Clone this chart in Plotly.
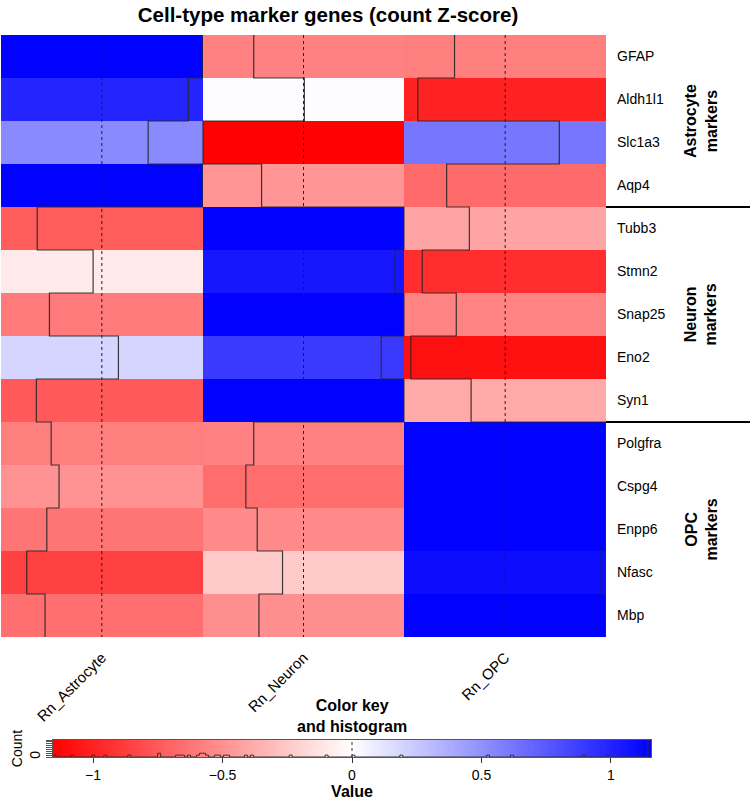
import numpy as np
import plotly.graph_objects as go

# datos: Z-score por fila (gen) para cada tipo celular
genes = ["GFAP", "Aldh1l1", "Slc1a3", "Aqp4",
         "Tubb3", "Stmn2", "Snap25", "Eno2", "Syn1",
         "Polgfra", "Cspg4", "Enpp6", "Nfasc", "Mbp"]
samples = ["Rn_Astrocyte", "Rn_Neuron", "Rn_OPC"]
astro = [1.15, 0.99, 0.53, 1.15, -0.74, -0.10, -0.60, 0.19, -0.75, -0.58, -0.49, -0.63, -0.86, -0.65]
neuron = [-0.57, 0.01, -1.15, -0.48, 1.15, 1.05, 1.15, 0.89, 1.15, -0.57, -0.66, -0.53, -0.24, -0.51]
opc = [-0.58, -1.00, 0.62, -0.67, -0.41, -0.95, -0.56, -1.08, -0.39, 1.15, 1.15, 1.15, 1.10, 1.15]
groups = ["Astrocyte<br>markers", "Neuron<br>markers", "OPC<br>markers"]
group_sizes = [4, 5, 5]

FONT = "Liberation Sans, Arial, sans-serif"
W, H = 750, 800
lo, hi = -2 / np.sqrt(3), 2 / np.sqrt(3)   # limites del Z-score con 3 columnas
cscale = [[0, "rgb(255,0,0)"], [0.5, "rgb(255,255,255)"], [1, "rgb(0,0,255)"]]

z = np.array([astro, neuron, opc]).T
rows = np.arange(len(genes))

fig = go.Figure()

# mapa de calor principal
fig.add_trace(go.Heatmap(z=z, x=list(range(len(samples))), y=rows, colorscale=cscale,
                         zmin=lo, zmax=hi, showscale=False, hoverinfo="skip"))

# lineas de referencia (valor 0) y traza por columna
for j in range(len(samples)):
    fig.add_trace(go.Scatter(x=[j, j], y=[-0.5, len(genes) - 0.5], mode="lines",
                             line=dict(color="#222", width=1, dash="3px,3px"),
                             showlegend=False, hoverinfo="skip"))
    xt = j - 0.5 + (z[:, j] - lo) / (hi - lo)
    fig.add_trace(go.Scatter(x=np.repeat(xt, 2), y=np.column_stack([rows - 0.5, rows + 0.5]).ravel(),
                             mode="lines", line=dict(color="rgba(40,40,40,0.9)", width=1.2),
                             showlegend=False, hoverinfo="skip"))

# llave de color + histograma
nb = 200
edges = np.linspace(lo, hi, nb + 1)
counts, _ = np.histogram(z.ravel(), bins=edges)
cmax = counts.max()
fig.add_trace(go.Heatmap(z=[(edges[:-1] + edges[1:]) / 2], x=edges, y=[0, cmax], colorscale=cscale,
                         zmin=lo, zmax=hi, showscale=False, hoverinfo="skip",
                         xaxis="x2", yaxis="y2"))
fig.add_trace(go.Scatter(x=edges, y=np.append(counts, counts[-1]), mode="lines", line_shape="hv",
                         line=dict(color="#333", width=1), xaxis="x2", yaxis="y2",
                         showlegend=False, hoverinfo="skip"))
fig.add_trace(go.Scatter(x=[0, 0], y=[0, cmax], mode="lines",
                         line=dict(color="#333", width=1, dash="3px,3px"), xaxis="x2", yaxis="y2",
                         showlegend=False, hoverinfo="skip"))

hm_x = [1 / W, 606 / W]
hm_y = [1 - 637 / H, 1 - 35 / H]

# separadores de grupos y etiquetas de grupo
bounds = np.cumsum(group_sizes)
for b in bounds[:-1]:
    fig.add_shape(type="line", xref="paper", yref="y", x0=hm_x[1], x1=1, y0=b - 0.5, y1=b - 0.5,
                  line=dict(color="black", width=2))
start = 0
for g, n in zip(groups, group_sizes):
    fig.add_annotation(text=f"<b>{g}</b>", xref="paper", yref="y", x=701 / W, y=start + (n - 1) / 2,
                       xanchor="center", yanchor="middle",
                       textangle=-90, showarrow=False, font=dict(size=16, color="black", family=FONT))
    start += n

fig.add_annotation(text="<b>Color key<br>and histogram</b>", xref="paper", yref="paper",
                   x=352 / W, y=1 - 716 / H, xanchor="center", yanchor="middle", showarrow=False,
                   font=dict(size=16, color="black", family=FONT))

fig.update_layout(
    width=W, height=H, margin=dict(l=0, r=0, t=0, b=0),
    plot_bgcolor="white", paper_bgcolor="white",
    font=dict(family=FONT, color="black", size=14),
    title=dict(text="<b>Cell-type marker genes (count Z-score)</b>", x=328 / W, y=1 - 15 / H,
               xanchor="center", yanchor="middle", font=dict(size=20.5, color="black", family=FONT)),
    xaxis=dict(domain=hm_x, range=[-0.5, len(samples) - 0.5], tickvals=list(range(len(samples))),
               ticktext=samples, tickangle=-45, ticks="", ticklabelstandoff=8,
               showgrid=False, zeroline=False, showline=False, automargin=False,
               tickfont=dict(size=15)),
    yaxis=dict(domain=hm_y, range=[len(genes) - 0.5, -0.5], tickvals=list(rows), ticktext=genes,
               side="right", ticks="", ticklabelstandoff=10, showgrid=False, zeroline=False,
               showline=False, automargin=False, tickfont=dict(size=14)),
    xaxis2=dict(domain=[53 / W, 651 / W], range=[lo, hi], anchor="y2",
                tickvals=[-1, -0.5, 0, 0.5, 1], ticktext=["\u22121", "\u22120.5", "0", "0.5", "1"],
                ticks="outside", ticklen=5, tickcolor="#333", showgrid=False, zeroline=False,
                showline=True, linecolor="#555", mirror=True, automargin=False,
                title=dict(text="<b>Value</b>", font=dict(size=16), standoff=2),
                tickfont=dict(size=14)),
    yaxis2=dict(domain=[1 - 757 / H, 1 - 740 / H], range=[0, cmax], anchor="x2",
                tickvals=list(range(cmax + 1)), ticktext=["0"] + [""] * cmax, tickangle=-90,
                ticks="outside", ticklen=6, tickcolor="#555", showgrid=False, zeroline=False,
                showline=True, linecolor="#555", mirror=True, automargin=False,
                title=dict(text="Count", font=dict(size=14), standoff=1),
                tickfont=dict(size=14)),
    showlegend=False,
)

fig.write_html("out.html", config={"displayModeBar": False},
               post_script="document.body.style.margin='0';")
